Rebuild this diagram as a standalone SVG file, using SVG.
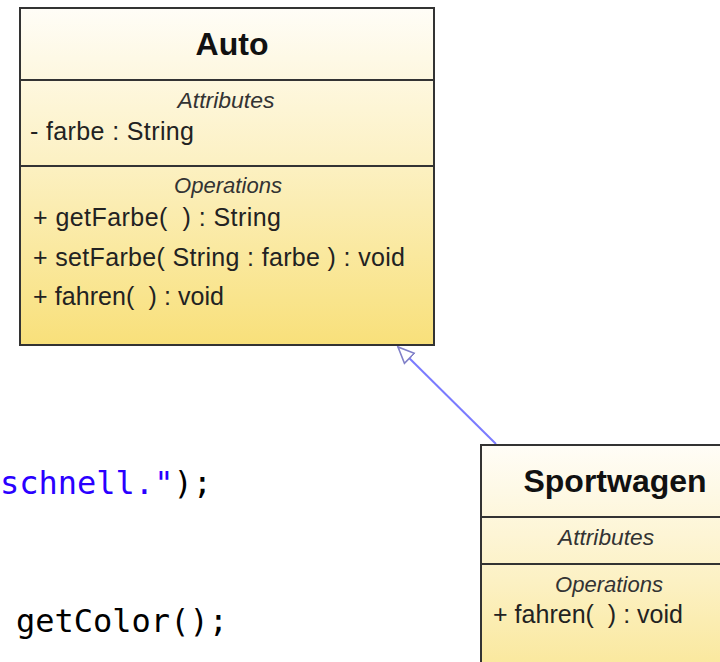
<svg xmlns="http://www.w3.org/2000/svg" width="720" height="662" viewBox="0 0 720 662">
<style>
.box{stroke:#333333;stroke-width:2;fill:url(#g)}
.div{stroke:#333333;stroke-width:2}
.title{font-family:"Liberation Sans",Arial,sans-serif;font-weight:bold;font-size:32px;fill:#111;text-anchor:middle}
.sec{font-family:"Liberation Sans",Arial,sans-serif;font-style:italic;font-size:22px;fill:#333;text-anchor:middle}
.item{font-family:"Liberation Sans",Arial,sans-serif;font-size:25px;fill:#222;white-space:pre}
.code{font-family:"DejaVu Sans Mono","Liberation Mono",monospace;font-size:32px;fill:#000}
.str{fill:#2a00ff}
.conn{stroke:#7b7bff;stroke-width:2;fill:none}
</style>
<defs>
<linearGradient id="g" x1="0" y1="0" x2="0" y2="1">
<stop offset="0" stop-color="#fffdf7"/>
<stop offset="0.45" stop-color="#fcf1c4"/>
<stop offset="1" stop-color="#f8e07a"/>
</linearGradient>
<marker id="tri" viewBox="-1 -9 19 18" markerWidth="19" markerHeight="18" refX="16" refY="0" orient="auto" markerUnits="userSpaceOnUse">
<path d="M16,0 L0,-7 L0,7 Z" fill="#ffffff" stroke="#8080c8" stroke-width="1.6"/>
</marker>
</defs>
<rect width="720" height="662" fill="#ffffff"/>
<g id="code">
<text class="code" x="0" y="494"><tspan class="str">schnell."</tspan>);</text>
<text class="code" x="16" y="632">getColor();</text>
</g>
<g id="connectors">
<line class="conn" x1="496" y1="444" x2="398" y2="347" marker-end="url(#tri)"/>
</g>
<g id="Auto">
<rect class="box" x="20" y="8" width="414" height="337"/>
<line class="div" x1="20" y1="80" x2="434" y2="80"/>
<line class="div" x1="20" y1="166" x2="434" y2="166"/>
<text class="title" x="232" y="55">Auto</text>
<text class="sec" x="226" y="108" textLength="97" lengthAdjust="spacingAndGlyphs">Attributes</text>
<text class="item" x="30" y="140" textLength="164" lengthAdjust="spacing">- farbe : String</text>
<text class="sec" x="228" y="193" textLength="108" lengthAdjust="spacingAndGlyphs">Operations</text>
<text class="item" x="33" y="226" textLength="248" lengthAdjust="spacing" xml:space="preserve">+ getFarbe(  ) : String</text>
<text class="item" x="33" y="266" textLength="372" lengthAdjust="spacing">+ setFarbe( String : farbe ) : void</text>
<text class="item" x="33" y="305" textLength="191" lengthAdjust="spacing" xml:space="preserve">+ fahren(  ) : void</text>
</g>
<g id="Sportwagen">
<rect class="box" x="481" y="445" width="300" height="300"/>
<line class="div" x1="481" y1="517" x2="720" y2="517"/>
<line class="div" x1="481" y1="564" x2="720" y2="564"/>
<text class="title" x="615" y="492">Sportwagen</text>
<text class="sec" x="606" y="545" textLength="96" lengthAdjust="spacingAndGlyphs">Attributes</text>
<text class="sec" x="609" y="592" textLength="108" lengthAdjust="spacingAndGlyphs">Operations</text>
<text class="item" x="493" y="623" textLength="190" lengthAdjust="spacing" xml:space="preserve">+ fahren(  ) : void</text>
</g>
</svg>
